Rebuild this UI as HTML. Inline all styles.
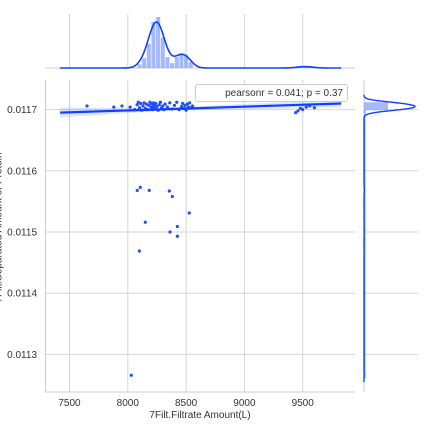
<!DOCTYPE html>
<html><head><meta charset="utf-8"><style>
html,body{margin:0;padding:0;background:#fff;width:432px;height:432px;overflow:hidden;position:relative}
svg text{font-family:"Liberation Sans",sans-serif;fill:#333}
</style></head><body>
<svg id="c" width="432" height="432" style="position:absolute;left:0;top:0"></svg>
<script>
// ---- data ----
const clusterX=[7650,7880,7950,8020,8060,8080,8090,8100,8110,8120,8130,8140,8150,8160,8170,8180,8190,8200,8205,8210,8215,8220,8225,8230,8235,8240,8250,8260,8270,8280,8290,8300,8310,8320,8340,8360,8380,8400,8420,8440,8460,8470,8480,8490,8500,8510,8520,8530,8545,8555,9440,9460,9480,9500,9530,9560,9600];
const clusterY=[0.011706,0.011704,0.011706,0.011704,0.011700,0.011708,0.011712,0.011703,0.011710,0.011699,0.011706,0.011711,0.011702,0.011709,0.011700,0.011707,0.011712,0.011704,0.011710,0.011700,0.011706,0.011711,0.011703,0.011708,0.011701,0.011710,0.011705,0.011699,0.011708,0.011712,0.011703,0.011706,0.011700,0.011709,0.011704,0.011711,0.011701,0.011707,0.011712,0.011700,0.011705,0.011710,0.011702,0.011707,0.011699,0.011709,0.011704,0.011711,0.011703,0.011706,0.011695,0.011698,0.011702,0.011700,0.011704,0.011706,0.011703];
const outX=[8081,8107,8184,8356,8382,8527,8150,8425,8362,8425,8099,8030];
const outY=[0.011568,0.011573,0.011568,0.011567,0.011558,0.011531,0.011516,0.011509,0.011500,0.011493,0.011469,0.011266];
const histBinsX=[8080,8120,8160,8200,8240,8280,8320,8360,8400,8440,8480,8520,9440,9480,9520,9560];
const histCounts=[3,8,20,38,42,25,9,4,9,12,11,5,1,1,1,1];
const xTicks=[7500,8000,8500,9000,9500];
const yTicks=[0.0113,0.0114,0.0115,0.0116,0.0117];
const regX=[7420,9830];
const regY=[0.011695,0.011710];
// ---- scales ----
const L=45.5,R=355,T=80,B=392;
const sx=v=>69.5+(v-7500)*0.1166;
const sy=v=>232-(v-0.0115)/0.0001*61.2;
const NS="http://www.w3.org/2000/svg";
const svg=document.getElementById('c');
function el(t,a,p){const e=document.createElementNS(NS,t);for(const k in a)e.setAttribute(k,a[k]);(p||svg).appendChild(e);return e;}
xTicks.forEach(v=>{
 const g=el('line',{x1:sx(v),x2:sx(v),y1:T,y2:B,stroke:'#d6d6d6'});
 
 
 const g2=el('line',{x1:sx(v),x2:sx(v),y1:14,y2:68,stroke:'#d6d6d6'});
 
 
 const t=el('text',{x:sx(v),y:406,'text-anchor':'middle','font-size':10});t.textContent=v;
 
 
});
yTicks.forEach(v=>{
 const g=el('line',{x1:L,x2:R,y1:sy(v),y2:sy(v),stroke:'#d6d6d6'});
 
 
 const g2=el('line',{x1:364,x2:418,y1:sy(v),y2:sy(v),stroke:'#d6d6d6'});
 
 
 const t=el('text',{x:37,y:sy(v)+3.5,'text-anchor':'end','font-size':10});t.textContent=v.toFixed(4);
 
 
});
const ax1=el('line',{x1:L,x2:L,y1:T,y2:B,stroke:'#cccccc'});

const ax2=el('line',{x1:L,x2:R,y1:B,y2:B,stroke:'#cccccc'});

const ax3=el('line',{x1:L,x2:R,y1:68,y2:68,stroke:'#cccccc'});

const ax4=el('line',{x1:364,x2:364,y1:T,y2:B,stroke:'#cccccc'});

const rx1=sx(regX[0]),rx2=sx(regX[1]),ry1=sy(regY[0]),ry2=sy(regY[1]);
const ymid=sy(regY[0]+(regY[1]-regY[0])*(8300-regX[0])/(regX[1]-regX[0]));
const band=el('polygon',{points:`${rx1},${ry1-5} ${sx(8300)},${ymid-1.5} ${rx2},${ry2-4} ${rx2},${ry2+4} ${sx(8300)},${ymid+1.5} ${rx1},${ry1+5}`,fill:'#1f4fff',opacity:0.15});

const allX=clusterX.concat(outX),allY=clusterY.concat(outY);
allX.forEach((x,i)=>{
 const c=el('circle',{cx:sx(x),cy:sy(allY[i]),r:1.6,fill:'#1f4fff'});
 
 
});
const rl=el('line',{x1:rx1,y1:ry1,x2:rx2,y2:ry2,stroke:'#1040ff','stroke-width':2.2});

const maxC=Math.max(...histCounts);
histBinsX.forEach((b,i)=>{
 const h=histCounts[i]/maxC*51;
 const r=el('rect',{x:sx(b)+0.3,y:68-h,width:40*0.1166-0.6,height:h,fill:'#8fa7ff',opacity:0.8});
 
 
});
function kde(v){let s=0;histBinsX.forEach((b,i)=>{const c=b+20;s+=histCounts[i]*Math.exp(-0.5*((v-c)/45)**2);});return s;}
let pk=0;const kx=[];for(let v=7420;v<=9830;v+=10){kx.push(v);pk=Math.max(pk,kde(v));}
const kp=el('polyline',{points:kx.map(v=>`${sx(v)},${68-kde(v)/pk*46}`).join(' '),fill:'none',stroke:'#1040ff','stroke-width':1.6});

function kdeY(v){let s=0;clusterY.forEach(y=>{s+=Math.exp(-0.5*((v-y)/0.0000035)**2);});outY.forEach(y=>{s+=0.08*Math.exp(-0.5*((v-y)/0.000003)**2);});return s;}
let pky=0;const ky=[];for(let v=0.011255;v<=0.011725;v+=0.0000005){ky.push(v);pky=Math.max(pky,kdeY(v));}
const ryb=el('rect',{x:364,y:sy(0.011712),width:24,height:sy(0.011699)-sy(0.011712),fill:'#8fa7ff',opacity:0.8});

const rfill=el('rect',{x:364,y:sy(0.0117),width:1.5,height:sy(0.011262)-sy(0.0117),fill:'#8fa7ff'});

const kpy=el('polyline',{points:ky.map(v=>`${364+kdeY(v)/pky*51},${sy(v)}`).join(' '),fill:'none',stroke:'#1040ff','stroke-width':1.4});

</script>
<div style="position:absolute;left:195px;top:84px;width:153px;height:18px;border:1px solid #ccc;border-radius:3px;background:rgba(255,255,255,0.85);font:10px 'Liberation Sans',sans-serif;color:#333;text-align:right;line-height:18px;padding-right:4px;box-sizing:border-box">pearsonr = 0.041; p = 0.37</div>
<div style="position:absolute;left:120px;top:410px;width:160px;text-align:center;font:10px 'Liberation Sans',sans-serif;color:#333">7Filt.Filtrate Amount(L)</div>
<div style="position:absolute;left:-101px;top:222px;width:200px;text-align:center;transform:rotate(-90deg);font:10px 'Liberation Sans',sans-serif;color:#333;white-space:nowrap">7Filt.Separated Amount of Protein</div>
</body></html>
